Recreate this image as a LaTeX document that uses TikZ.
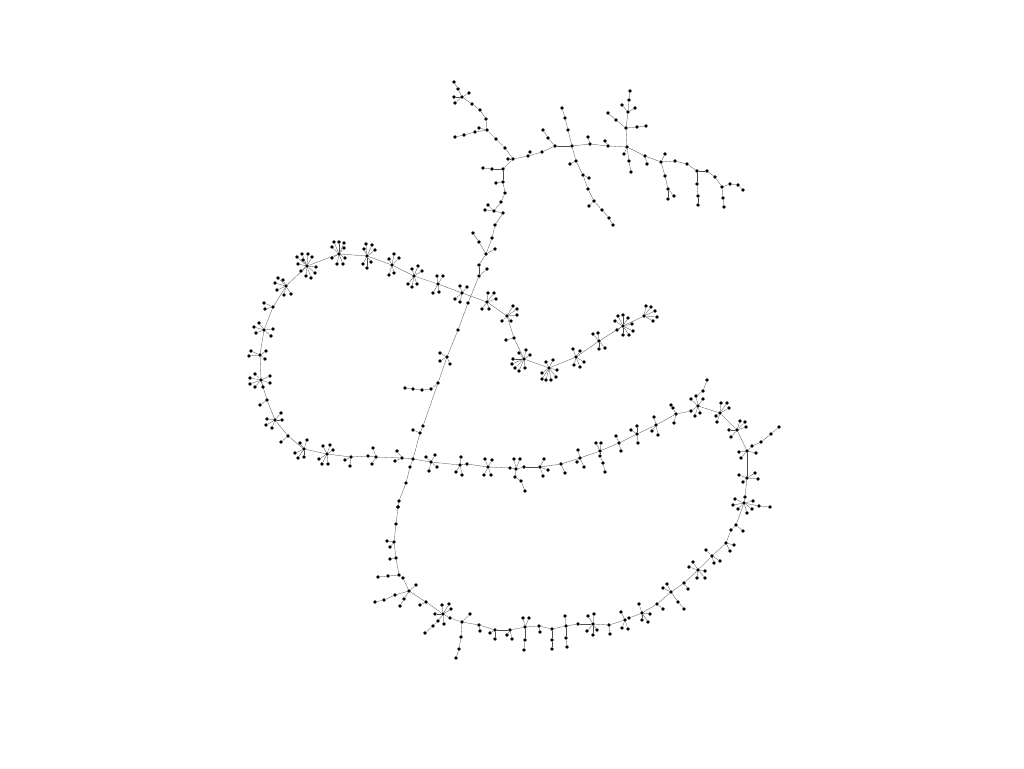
\documentclass[tikz,border=0pt]{standalone}
\tikzset{
  dot/.style={circle,fill=black,draw=none,inner sep=0pt,minimum size=3.8pt},
  edge/.style={draw=black!70,line width=0.3pt}
}
\newcommand\kids[3]{\foreach \x/\y in {#3}{%
  \node[dot] (n\x-\y) at (\x,\y) {};
  \draw[edge] (n#1-#2) -- (n\x-\y);}}
\begin{document}
\begin{tikzpicture}[x=1pt,y=-1pt]
\useasboundingbox (0,0) rectangle (1024,768);
\node[dot] (n513-159) at (513,159) {};
% top
\kids{513}{159}{508/159,503/169,505/148,528/156}
\kids{505}{148}{496/139}
\kids{496}{139}{487/130}
\kids{487}{130}{486/119,479/128,475/132}
\kids{475}{132}{464/135}
\kids{464}{135}{455/137}
\kids{486}{119}{480/110}
\kids{480}{110}{472/104}
\kids{472}{104}{462/97}
\kids{462}{97}{458/89,469/93,454/97,455/103}
\kids{458}{89}{454/82}
\kids{503}{169}{492/169,503/182}
\kids{492}{169}{483/168}
\kids{503}{182}{496/183,505/193}
\kids{505}{193}{501/202}
\kids{501}{202}{494/211}
\kids{494}{211}{485/210,488/205,503/213}
\kids{528}{156}{530/152,542/152}
\kids{542}{152}{555/146}
\kids{555}{146}{548/138,572/146}
\kids{548}{138}{543/130}
\kids{572}{146}{568/130,576/161,590/144}
\kids{568}{130}{565/118}
\kids{565}{118}{562/108}
\kids{576}{161}{570/164,583/175}
\kids{583}{175}{589/178,588/189}
\kids{588}{189}{594/201}
\kids{594}{201}{589/206,602/210}
\kids{602}{210}{609/218}
\kids{609}{218}{613/225}
\kids{590}{144}{588/137,608/146}
\kids{608}{146}{605/141,627/147}
\kids{627}{147}{626/128,624/154,629/161,645/156}
\kids{626}{128}{628/112,637/127,616/120}
\kids{628}{112}{629/100,622/105,635/108}
\kids{629}{100}{630/91}
\kids{637}{127}{646/126}
\kids{616}{120}{608/113}
\kids{629}{161}{631/172}
\kids{645}{156}{647/164,661/162}
\kids{661}{162}{665/154,675/161,665/176}
\kids{665}{176}{668/189}
\kids{668}{189}{674/196,668/199}
\kids{675}{161}{687/164}
\kids{687}{164}{697/171}
\kids{697}{171}{697/184,707/171}
\kids{697}{184}{698/196}
\kids{698}{196}{698/205}
\kids{707}{171}{715/177}
\kids{715}{177}{722/187}
\kids{722}{187}{723/198,730/184}
\kids{723}{198}{724/207}
\kids{730}{184}{738/185}
\kids{738}{185}{743/190}
% trunk
\kids{503}{213}{495/225}
\kids{495}{225}{492/238}
\kids{492}{238}{486/254}
\kids{486}{254}{479/242,495/249,479/265}
\kids{479}{242}{473/233}
\kids{479}{265}{479/276}
\kids{479}{276}{487/269,468/303}
\kids{468}{303}{458/330}
\kids{458}{330}{447/357}
\kids{447}{357}{440/353,440/361,450/364,438/383}
\kids{438}{383}{431/389,423/426}
\kids{431}{389}{422/390}
\kids{422}{390}{413/389}
\kids{413}{389}{405/388}
\kids{423}{426}{420/433}
\kids{420}{433}{413/430,413/459}
\kids{413}{459}{410/467,402/458,431/462}
\kids{410}{467}{406/483}
\kids{406}{483}{399/501}
\kids{399}{501}{398/507}
% left loop
\kids{402}{458}{397/451,395/461,376/457}
\kids{376}{457}{373/448,372/464,368/456}
\kids{368}{456}{351/457}
\kids{351}{457}{345/460,350/466,327/454}
\kids{327}{454}{323/446,330/445,333/450,319/459,322/464,328/464,304/449}
\kids{304}{449}{300/443,307/440,295/453,298/458,304/457,288/436}
\kids{288}{436}{281/442,275/420}
\kids{275}{420}{281/413,267/419,266/425,272/428,282/420,267/400}
\kids{267}{400}{260/405,261/380}
\kids{261}{380}{255/374,250/378,250/384,255/387,263/387,270/376,270/383,260/355}
\kids{260}{355}{251/351,249/356,266/351,265/359,264/330}
\kids{264}{330}{259/323,254/327,256/333,273/329,271/336,273/307}
\kids{273}{307}{264/303,265/309,286/286}
\kids{286}{286}{278/278,283/280,275/283,277/290,284/295,291/294,307/266}
\kids{307}{266}{302/254,308/254,312/257,303/260,297/257,298/264,301/271,306/276,311/278,315/273,316/267,339/254}
\kids{339}{254}{334/242,339/242,332/247,344/243,344/248,332/258,337/264,343/264,345/258,367/256}
\kids{367}{256}{366/244,372/245,364/249,375/250,363/264,367/268,371/262,392/265}
\kids{392}{265}{394/254,389/259,399/258,394/273,389/275,414/276}
\kids{414}{276}{412/269,418/266,422/271,408/284,417/284,412/287,438/284}
\kids{438}{284}{437/276,443/276,433/293,439/292,462/293}
\kids{462}{293}{460/286,467/287,455/299,460/302,487/302}
\kids{487}{302}{488/293,494/293,496/299,482/309,489/309,507/316}
\kids{507}{316}{513/306,517/309,517/315,511/321,502/321,514/338}
\kids{514}{338}{506/340,524/359}
\kids{524}{359}{526/350,519/353,530/355,513/359,512/364,515/368,519/371,525/368,549/368}
\kids{549}{368}{546/362,553/360,557/370,542/373,542/379,546/380,551/380,556/377,576/357}
\kids{576}{357}{573/349,580/351,584/362,574/365,580/367,599/341}
\kids{599}{341}{593/334,598/333,605/348,599/349,623/326}
\kids{623}{326}{618/316,623/315,628/318,615/321,632/324,633/331,617/330,623/335,629/335,644/316}
\kids{644}{316}{646/306,651/307,655/311,657/317,653/321}
% right arc
\kids{431}{462}{426/457,435/455,437/467,429/471,460/465}
\kids{460}{465}{461/457,467/464,456/472,462/475}
\kids{467}{464}{488/467}
\kids{488}{467}{485/459,492/460,484/475,491/475,510/468}
\kids{510}{468}{516/469}
\kids{516}{469}{514/459,520/459,515/477,524/467}
\kids{515}{477}{521/481}
\kids{521}{481}{525/491}
\kids{524}{467}{540/467}
\kids{540}{467}{544/459,548/470,543/476,561/464}
\kids{561}{464}{565/473,580/458}
\kids{580}{458}{578/450,577/462,584/467,600/451}
\kids{600}{451}{596/443,601/443,600/456,619/443}
\kids{600}{456}{603/463}
\kids{603}{463}{605/472}
\kids{619}{443}{616/436,621/451,637/434}
\kids{637}{434}{637/426,631/430,638/443,656/425}
\kids{656}{425}{654/417,652/431,658/435,676/414}
\kids{676}{414}{673/408,674/423,691/411}
\kids{673}{408}{671/405}
\kids{691}{411}{698/406}
\kids{698}{406}{691/399,696/396,703/399,700/413,695/416,720/413}
\kids{696}{396}{703/391}
\kids{703}{391}{707/380}
\kids{720}{413}{721/403,727/403,729/408,716/416,717/422,737/430}
\kids{737}{430}{740/421,745/422,746/427,729/430,731/437,747/451}
\kids{747}{451}{739/452,741/458,752/446,756/453,747/478}
\kids{752}{446}{761/442}
\kids{761}{442}{771/434}
\kids{771}{434}{779/427}
\kids{747}{478}{739/475,755/473,758/479,743/482,745/497}
\kids{745}{497}{744/503}
\kids{744}{503}{735/499,733/505,738/509,747/513,752/509,753/501,759/506,736/525}
\kids{759}{506}{770/507}
\kids{736}{525}{743/531,731/530}
\kids{731}{530}{726/543}
\kids{726}{543}{734/545,730/551,712/556}
\kids{712}{556}{706/550,720/561,714/563,698/570}
\kids{698}{570}{693/562,689/567,705/571,697/578,705/578,684/583}
\kids{684}{583}{688/589,671/592}
\kids{671}{592}{667/584,663/588,678/602,657/604}
\kids{678}{602}{684/609}
\kids{657}{604}{663/609,642/613}
\kids{642}{613}{639/604,650/614,642/620,648/622,629/618}
\kids{629}{618}{625/620}
\kids{625}{620}{621/612,622/628,628/629,609/625}
\kids{609}{625}{610/634,593/624}
\kids{593}{624}{588/616,594/614,587/631,593/635,597/630,578/624}
\kids{578}{624}{566/626}
\kids{566}{626}{565/616,566/638,552/629}
\kids{566}{638}{567/647}
\kids{552}{629}{552/640,539/626}
\kids{552}{640}{552/649}
\kids{539}{626}{540/632,525/627}
\kids{525}{627}{523/618,529/618,525/640,510/630}
\kids{525}{640}{524/650}
\kids{510}{630}{507/635,512/639,495/630}
\kids{495}{630}{490/633,495/639,479/625}
\kids{479}{625}{480/631,462/622}
\kids{462}{622}{470/614,461/637,450/618}
\kids{461}{637}{459/649}
\kids{459}{649}{456/658}
\kids{450}{618}{443/614}
\kids{443}{614}{442/605,449/604,451/609,435/614,438/621,444/624,426/602}
\kids{438}{621}{433/626}
\kids{433}{626}{425/633}
\kids{426}{602}{420/605,409/591}
\kids{409}{591}{416/585,395/595,404/599,403/578}
\kids{395}{595}{384/600}
\kids{384}{600}{375/602}
\kids{404}{599}{400/606}
\kids{403}{578}{399/575}
\kids{399}{575}{388/576,396/558}
\kids{388}{576}{378/577}
\kids{396}{558}{390/559,394/542}
\kids{394}{542}{387/541,390/547,396/524}
\kids{396}{524}{398/507}
\end{tikzpicture}
\end{document}
